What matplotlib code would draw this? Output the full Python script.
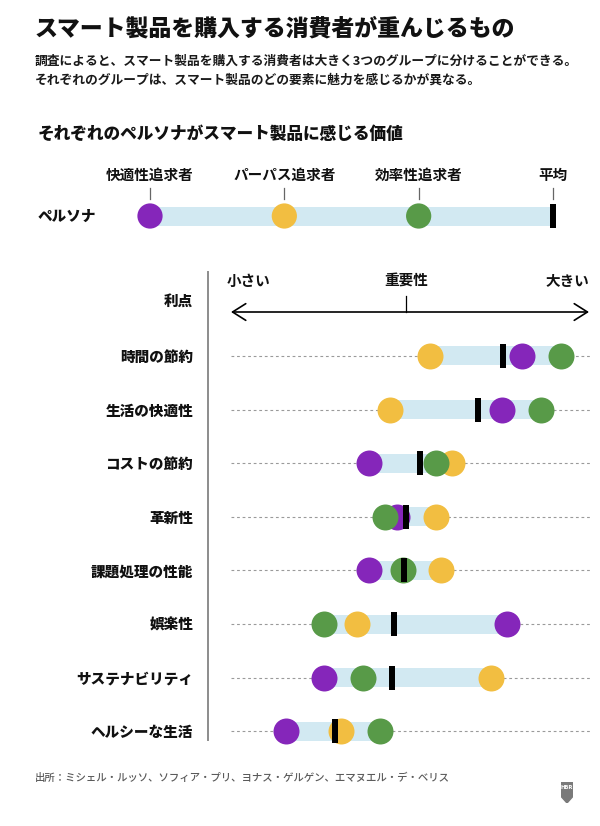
import numpy as np
import matplotlib.pyplot as plt
from matplotlib.patches import Polygon

plt.rcParams['font.family'] = ['Noto Sans CJK JP', 'DejaVu Sans']

# data (importance, 0 = 小さい, 100 = 大きい)
benefits = ['時間の節約', '生活の快適性', 'コストの節約', '革新性',
            '課題処理の性能', '娯楽性', 'サステナビリティ', 'ヘルシーな生活']
comfort = [81.3, 75.7, 38.5, 46.4, 38.5, 77.1, 26.0, 15.4]      # 快適性追求者
purpose = [55.6, 44.4, 61.7, 57.3, 58.7, 35.2, 72.6, 30.7]      # パーパス追求者
efficiency = [92.2, 86.6, 57.3, 43.0, 48.0, 26.0, 36.9, 41.6]   # 効率性追求者
average = [76.0, 69.0, 52.8, 48.9, 48.3, 45.5, 45.0, 29.1]      # 平均

persona_names = ['快適性追求者', 'パーパス追求者', '効率性追求者', '平均']
persona_pos = [0, 1, 2, 3]
mid_mark = 49.0

PURPLE = '#8526ba'
YELLOW = '#f2be41'
GREEN = '#589a48'
LIGHT = '#d2e9f2'
persona_colors = [PURPLE, YELLOW, GREEN]

W, H = 600, 826
fig = plt.figure(figsize=(W / 100, H / 100), dpi=100)


def fx(px):
    return px / W


def fy(py):
    return 1 - py / H


# header
fig.text(fx(35), fy(29), 'スマート製品を購入する消費者が重んじるもの',
         fontsize=16.5, fontweight='heavy', color='#111111', va='center')
fig.text(fx(35), fy(61), '調査によると、スマート製品を購入する消費者は大きく3つのグループに分けることができる。',
         fontsize=9.2, fontweight='bold', color='#1a1a1a', va='center')
fig.text(fx(35), fy(80), 'それぞれのグループは、スマート製品のどの要素に魅力を感じるかが異なる。',
         fontsize=9.2, fontweight='bold', color='#1a1a1a', va='center')
fig.text(fx(38), fy(134), 'それぞれのペルソナがスマート製品に感じる価値',
         fontsize=12, fontweight='heavy', color='#111111', va='center')

# persona strip
PX0, PXS = 150, 134.33
PY0, PYS = 216, 53.6
pax = fig.add_axes([fx(100), fy(250), 500 / W, 100 / H])
pax.set_xlim((100 - PX0) / PXS, (600 - PX0) / PXS)
pax.set_ylim((PY0 - 250) / PYS, (PY0 - 150) / PYS)
pax.axis('off')
pax.barh([0], persona_pos[-1] - persona_pos[0], left=persona_pos[0],
         height=19 / PYS, color=LIGHT, zorder=1)
pax.scatter(persona_pos[:3], [0, 0, 0], s=330, c=persona_colors,
            linewidths=0, zorder=3)
bar_verts = [(-0.125, -0.5), (0.125, -0.5), (0.125, 0.5), (-0.125, 0.5)]
pax.scatter([persona_pos[3]], [0], marker=bar_verts, s=300, color='black',
            linewidths=0, zorder=4)
for p, name in zip(persona_pos, persona_names):
    pax.text(p, (PY0 - 175) / PYS, name, ha='center', va='center',
             fontsize=10.5, fontweight='bold', color='#111111')
    pax.plot([p, p], [(PY0 - 199) / PYS, (PY0 - 188) / PYS],
             color='#666666', lw=0.9)
fig.text(fx(38), fy(216), 'ペルソナ', fontsize=10.5, fontweight='heavy',
         color='#111111', va='center')

# main chart
X0, XS = 231, 3.58
Y0, YS = 356, 53.6


def vx(px):
    return (px - X0) / XS


def vy(py):
    return (py - Y0) / YS


ax = fig.add_axes([fx(200), fy(765), 400 / W, 500 / H])
ax.set_xlim(vx(200), vx(600))
ax.set_ylim(vy(765), vy(265))
for s in ax.spines.values():
    s.set_visible(False)
ax.set_xticks([])

rows = np.arange(len(benefits))
vals = np.array([comfort, purpose, efficiency, average])
lo = vals.min(axis=0)
hi = vals.max(axis=0)

ax.hlines(rows, 0, vx(592), colors='#9a9a9a', linestyles=(0, (2.5, 2.5)),
          lw=0.8, zorder=1)
ax.barh(rows, hi - lo, left=lo, height=19 / YS, color=LIGHT, zorder=2)
ax.scatter(purpose, rows, s=350, color=YELLOW, linewidths=0, zorder=3)
ax.scatter(comfort, rows, s=350, color=PURPLE, linewidths=0, zorder=4)
ax.scatter(efficiency, rows, s=350, color=GREEN, linewidths=0, zorder=5)
ax.scatter(average, rows, marker=bar_verts, s=300, color='black',
           linewidths=0, zorder=6)

ax.set_yticks(rows, benefits, fontsize=10.5, fontweight='heavy', color='#111111')
ax.tick_params(axis='y', length=0, pad=5)

# scale header
ya = vy(312)
ax.annotate('', xy=(100, ya), xytext=(0, ya),
            arrowprops=dict(arrowstyle='<->,head_length=0.95,head_width=0.6',
                            lw=1.2, color='black', shrinkA=0, shrinkB=0))
ax.plot([mid_mark, mid_mark], [vy(296), ya], color='black', lw=0.9)
ax.text(-1.2, vy(281), '小さい', ha='left', va='center', fontsize=10.5,
        fontweight='bold', color='#111111')
ax.text(mid_mark, vy(281), '重要性', ha='center', va='center', fontsize=10.5,
        fontweight='bold', color='#111111')
ax.text(100, vy(281), '大きい', ha='right', va='center', fontsize=10.5,
        fontweight='bold', color='#111111')
ax.text(vx(193), vy(301), '利点', ha='right', va='center', fontsize=10.5,
        fontweight='heavy', color='#111111')
ax.plot([vx(208), vx(208)], [vy(272), vy(740)], color='#8c8c8c', lw=1.4,
        clip_on=False)

# source + logo
fig.text(fx(35), fy(778),
         '出所：ミシェル・ルッソ、ソフィア・プリ、ヨナス・ゲルゲン、エマヌエル・デ・ベリス',
         fontsize=7.5, fontweight='medium', color='#5a5a5a', va='center')
lax = fig.add_axes([fx(561), fy(803), 12 / W, 21 / H])
lax.axis('off')
lax.set_xlim(0, 1)
lax.set_ylim(0, 1)
lax.add_patch(Polygon([(0, 1), (1, 1), (1, 0.32), (0.5, 0), (0, 0.32)],
                      closed=True, color='#7a7a7a'))
lax.text(0.5, 0.72, 'HBR', ha='center', va='center', fontsize=3.8,
         fontweight='bold', color='white', family='DejaVu Sans Condensed',
         clip_on=False)

fig.savefig('out.png', dpi=100)
